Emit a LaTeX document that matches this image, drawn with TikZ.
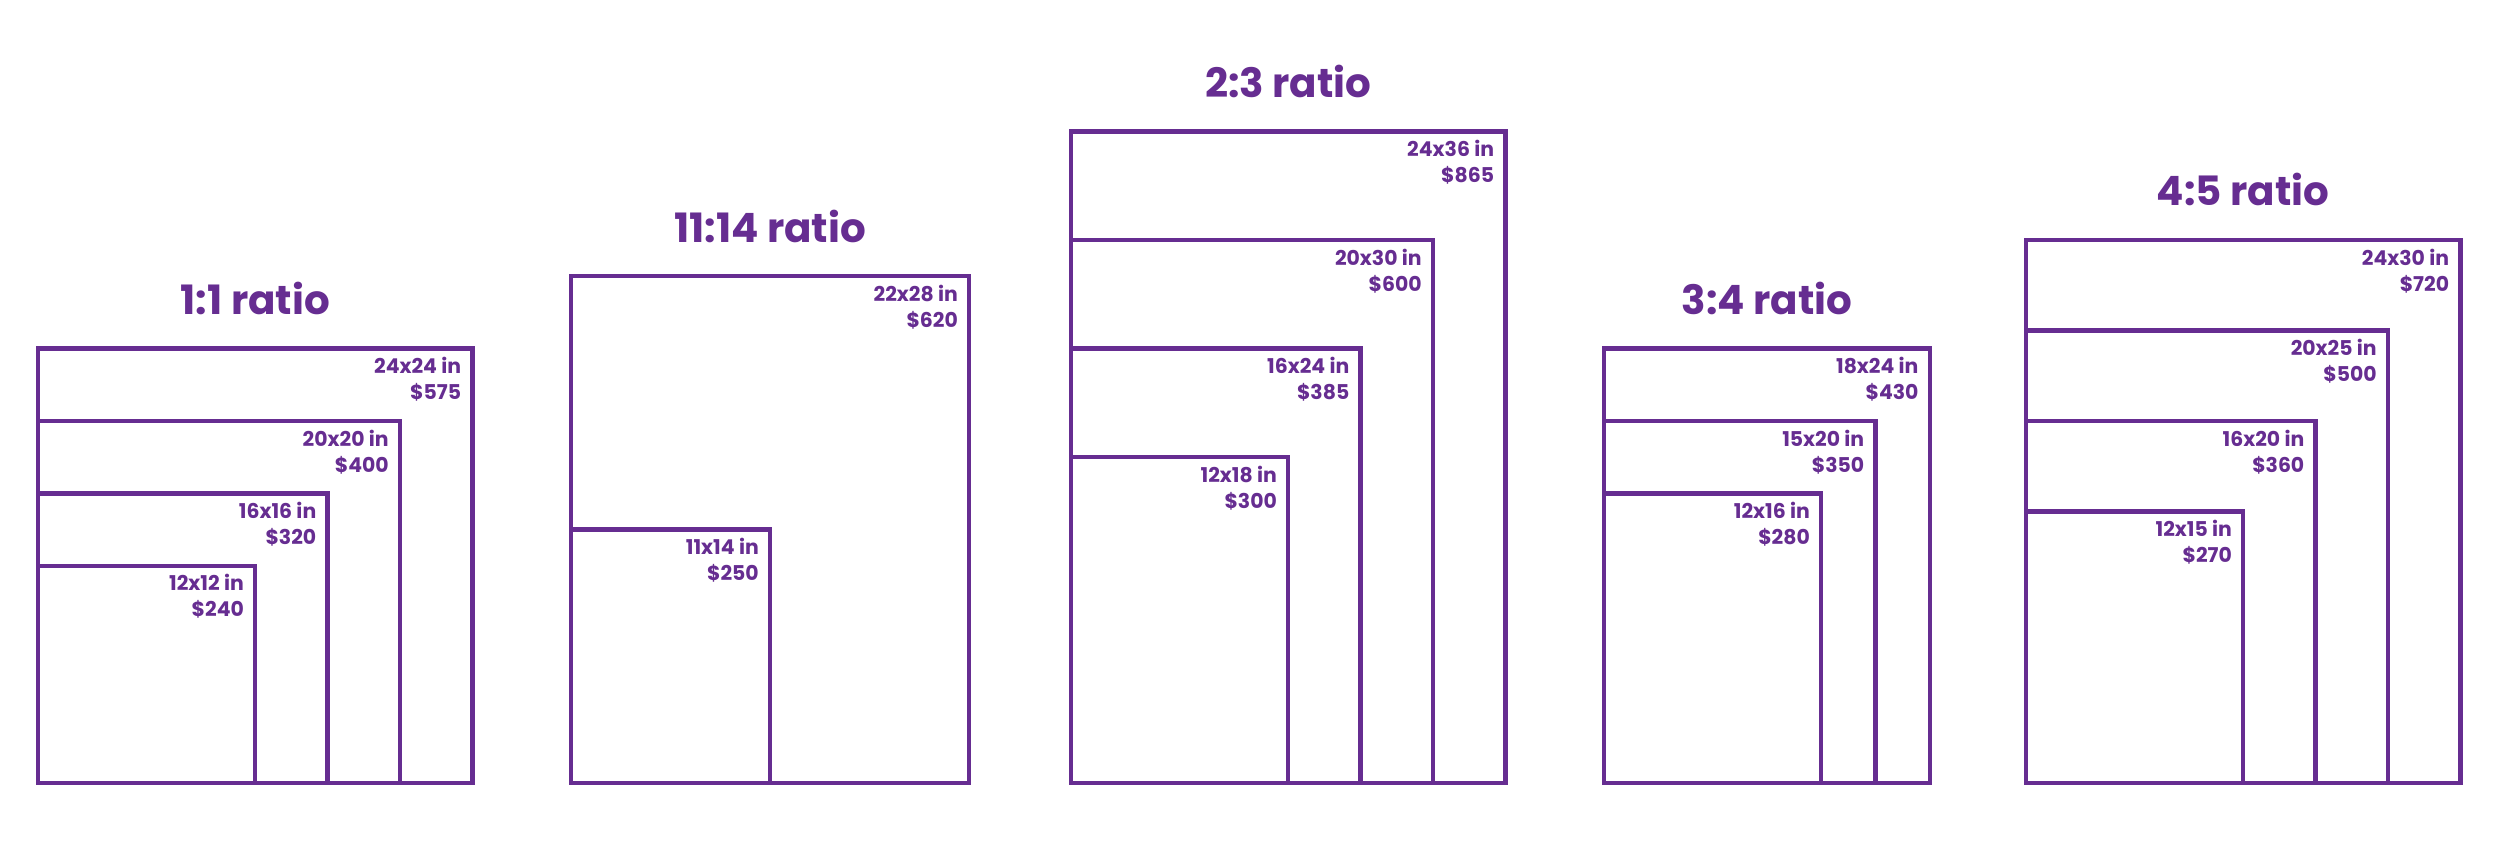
\documentclass[tikz,border=0pt]{standalone}
\usepackage{fontspec}
\setmainfont{Poppins}
\usepackage{tikz}
\usetikzlibrary{positioning, calc}
\definecolor{frPurple}{HTML}{662D91}
\tikzset{
  frame/.style 2 args={
    draw=frPurple, line width=0.09cm, inner sep=0pt, outer sep=0pt,
    minimum width=#1*0.362cm, minimum height=#2*0.362cm, anchor=south west
  },
  sizetag/.style={
    text=frPurple, font=\fontsize{11.6}{14.8}\selectfont\bfseries, align=right,
    inner sep=0pt, anchor=north east
  },
  ratiotitle/.style={
    text=frPurple, font=\fontsize{23}{26}\selectfont\bfseries,
    inner sep=0pt, anchor=base
  }
}
\begin{document}
\begin{tikzpicture}
  \useasboundingbox[fill=white] (0,0) rectangle (50,17.3);

  % 1:1
  \node[frame={24}{24}] (a24) at (0.76,1.64) {};
  \node[frame={20}{20}] (a20) at (a24.south west) {};
  \node[frame={16}{16}] (a16) at (a24.south west) {};
  \node[frame={12}{12}] (a12) at (a24.south west) {};
  \node[sizetag] at ([xshift=-2.2mm, yshift=-1.7mm]a24.north east) {24x24 in\\\$575};
  \node[sizetag] at ([xshift=-2.2mm, yshift=-1.7mm]a20.north east) {20x20 in\\\$400};
  \node[sizetag] at ([xshift=-2.2mm, yshift=-1.7mm]a16.north east) {16x16 in\\\$320};
  \node[sizetag] at ([xshift=-2.2mm, yshift=-1.7mm]a12.north east) {12x12 in\\\$240};
  \node[ratiotitle] (ta) at ([yshift=6.8mm]a24.north) {1:1 ratio};

  % 11:14
  \node[frame={22}{28}] (b22) at (11.42,1.64) {};
  \node[frame={11}{14}] (b11) at (b22.south west) {};
  \node[sizetag] at ([xshift=-2.2mm, yshift=-1.7mm]b22.north east) {22x28 in\\\$620};
  \node[sizetag] at ([xshift=-2.2mm, yshift=-1.7mm]b11.north east) {11x14 in\\\$250};
  \node[ratiotitle] (tb) at ([yshift=6.8mm]b22.north) {11:14 ratio};

  % 2:3
  \node[frame={24}{36}] (c24) at (21.42,1.64) {};
  \node[frame={20}{30}] (c20) at (c24.south west) {};
  \node[frame={16}{24}] (c16) at (c24.south west) {};
  \node[frame={12}{18}] (c12) at (c24.south west) {};
  \node[sizetag] at ([xshift=-2.2mm, yshift=-1.7mm]c24.north east) {24x36 in\\\$865};
  \node[sizetag] at ([xshift=-2.2mm, yshift=-1.7mm]c20.north east) {20x30 in\\\$600};
  \node[sizetag] at ([xshift=-2.2mm, yshift=-1.7mm]c16.north east) {16x24 in\\\$385};
  \node[sizetag] at ([xshift=-2.2mm, yshift=-1.7mm]c12.north east) {12x18 in\\\$300};
  \node[ratiotitle] (tc) at ([yshift=6.8mm]c24.north) {2:3 ratio};

  % 3:4
  \node[frame={18}{24}] (d18) at (32.08,1.64) {};
  \node[frame={15}{20}] (d15) at (d18.south west) {};
  \node[frame={12}{16}] (d12) at (d18.south west) {};
  \node[sizetag] at ([xshift=-2.2mm, yshift=-1.7mm]d18.north east) {18x24 in\\\$430};
  \node[sizetag] at ([xshift=-2.2mm, yshift=-1.7mm]d15.north east) {15x20 in\\\$350};
  \node[sizetag] at ([xshift=-2.2mm, yshift=-1.7mm]d12.north east) {12x16 in\\\$280};
  \node[ratiotitle] (td) at ([yshift=6.8mm]d18.north) {3:4 ratio};

  % 4:5
  \node[frame={24}{30}] (e24) at (40.52,1.64) {};
  \node[frame={20}{25}] (e20) at (e24.south west) {};
  \node[frame={16}{20}] (e16) at (e24.south west) {};
  \node[frame={12}{15}] (e12) at (e24.south west) {};
  \node[sizetag] at ([xshift=-2.2mm, yshift=-1.7mm]e24.north east) {24x30 in\\\$720};
  \node[sizetag] at ([xshift=-2.2mm, yshift=-1.7mm]e20.north east) {20x25 in\\\$500};
  \node[sizetag] at ([xshift=-2.2mm, yshift=-1.7mm]e16.north east) {16x20 in\\\$360};
  \node[sizetag] at ([xshift=-2.2mm, yshift=-1.7mm]e12.north east) {12x15 in\\\$270};
  \node[ratiotitle] (te) at ([yshift=6.8mm]e24.north) {4:5 ratio};
\end{tikzpicture}
\end{document}
